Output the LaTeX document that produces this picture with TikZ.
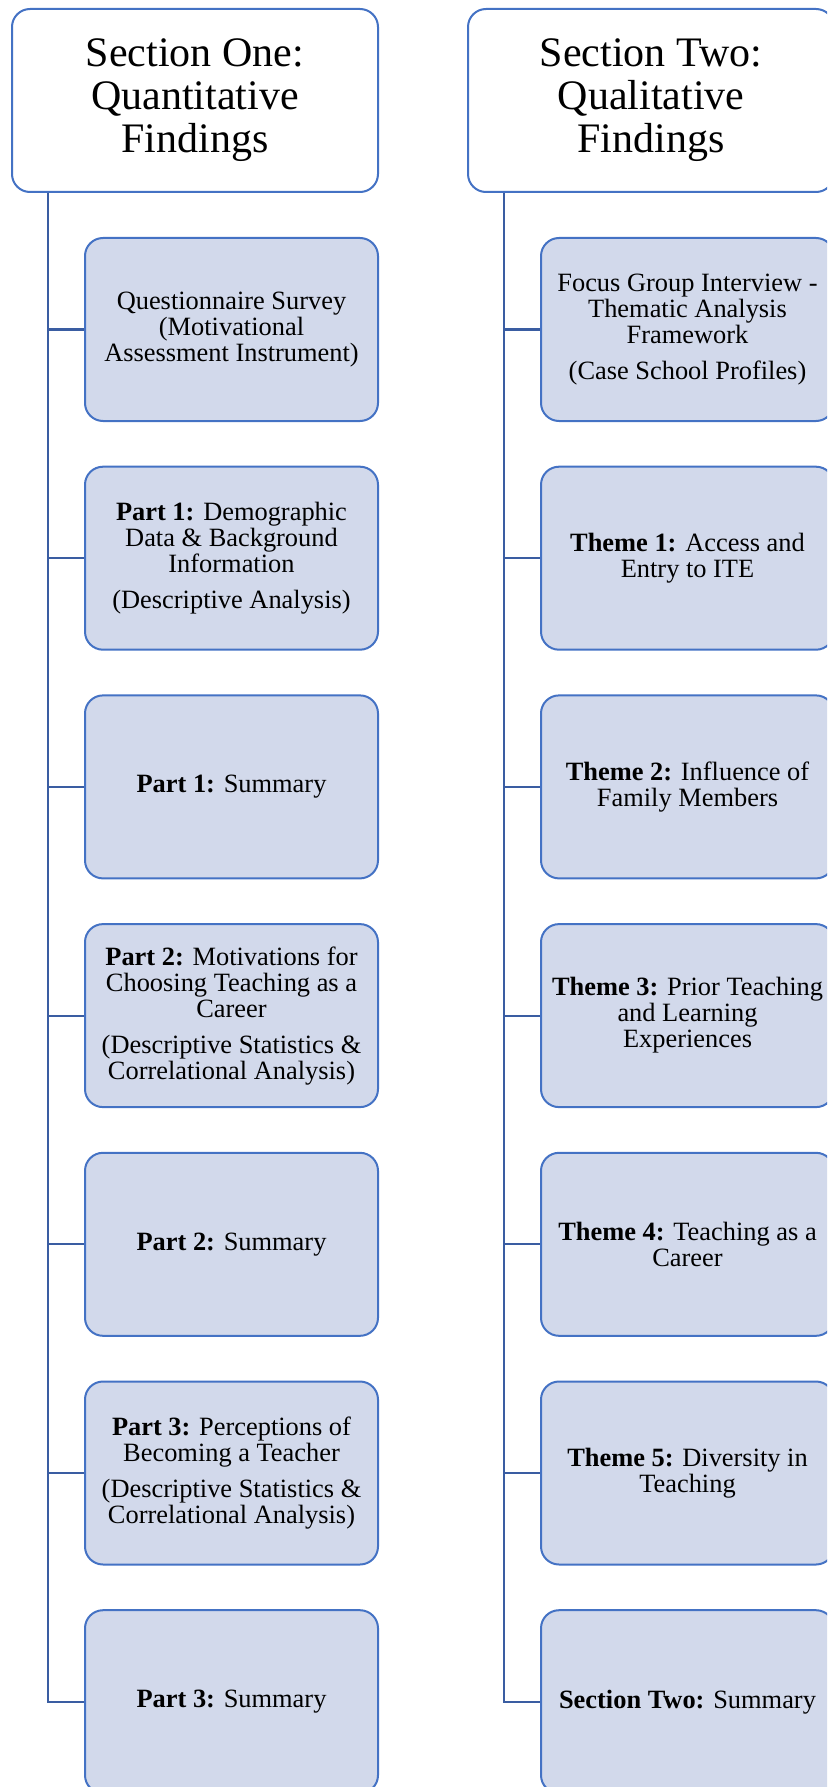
\documentclass[tikz,border=0pt]{standalone}
\usepackage{fontspec}
\setmainfont{Liberation Serif}
\definecolor{boxline}{HTML}{4472C4}
\definecolor{boxfill}{HTML}{D2D9EB}
\definecolor{linkline}{HTML}{3A5DA2}
\tikzset{
  secthead/.style={draw=boxline, line width=2pt, rounded corners=18pt, fill=white,
    minimum width=366pt, minimum height=183pt, inner sep=0pt, align=center,
    font=\fontsize{42}{43}\selectfont},
  partbox/.style={draw=boxline, line width=2pt, rounded corners=18pt, fill=boxfill,
    minimum width=293pt, minimum height=183pt, inner sep=0pt, align=center,
    font=\fontsize{26.4}{26}\selectfont},
  link/.style={draw=linkline, line width=2.2pt, line join=miter}
}
\begin{document}
\begin{tikzpicture}[x=1pt, y=-1pt]
\useasboundingbox (0,0) rectangle (827,1787);
\clip (0,0) rectangle (827,1787);

% ---- Section One column ----
\node[secthead] (hL) at (195,100.5) {Section One:\\Quantitative\\Findings};
\coordinate (tL) at ([xshift=37pt]hL.south west);

\node[partbox] (L1) at (231.5,329.5) {Questionnaire Survey\\ (Motivational\\Assessment Instrument)};
\node[partbox] (L2) at (231.5,558.2) {\textbf{Part 1:} Demographic\\Data \& Background\\Information\\[10pt](Descriptive Analysis)};
\node[partbox] (L3) at (231.5,786.9) {\textbf{Part 1:} Summary};
\node[partbox] (L4) at (231.5,1015.6) {\textbf{Part 2:} Motivations for\\Choosing Teaching as a\\Career\\[10pt](Descriptive Statistics \&\\Correlational Analysis)};
\node[partbox] (L5) at (231.5,1244.3) {\textbf{Part 2:} Summary};
\node[partbox] (L6) at (231.5,1473) {\textbf{Part 3:} Perceptions of\\Becoming a Teacher\\[10pt](Descriptive Statistics \&\\Correlational Analysis)};
\node[partbox] (L7) at (231.5,1701.7) {\textbf{Part 3:} Summary};

% ---- Section Two column ----
\node[secthead] (hR) at (651,100.5) {Section Two:\\Qualitative\\Findings};
\coordinate (tR) at ([xshift=37pt]hR.south west);

\node[partbox] (R1) at (687.5,329.5) {Focus Group Interview -\\Thematic Analysis\\Framework\\[10pt](Case School Profiles)};
\node[partbox] (R2) at (687.5,558.2) {\textbf{Theme 1:} Access and\\Entry to ITE};
\node[partbox] (R3) at (687.5,786.9) {\textbf{Theme 2:} Influence of\\Family Members};
\node[partbox] (R4) at (687.5,1015.6) {\textbf{Theme 3:} Prior Teaching\\and Learning\\Experiences};
\node[partbox] (R5) at (687.5,1244.3) {\textbf{Theme 4:} Teaching as a\\Career};
\node[partbox] (R6) at (687.5,1473) {\textbf{Theme 5:} Diversity in\\Teaching};
\node[partbox] (R7) at (687.5,1701.7) {\textbf{Section Two:} Summary};

% ---- trunk lines and branches to each box ----
\foreach \s in {L,R}{
  \draw[link] (t\s) |- (\s7.west);
  \foreach \i in {1,...,6}{
    \draw[link] (t\s |- \s\i.west) -- (\s\i.west);
  }
}
\end{tikzpicture}
\end{document}
